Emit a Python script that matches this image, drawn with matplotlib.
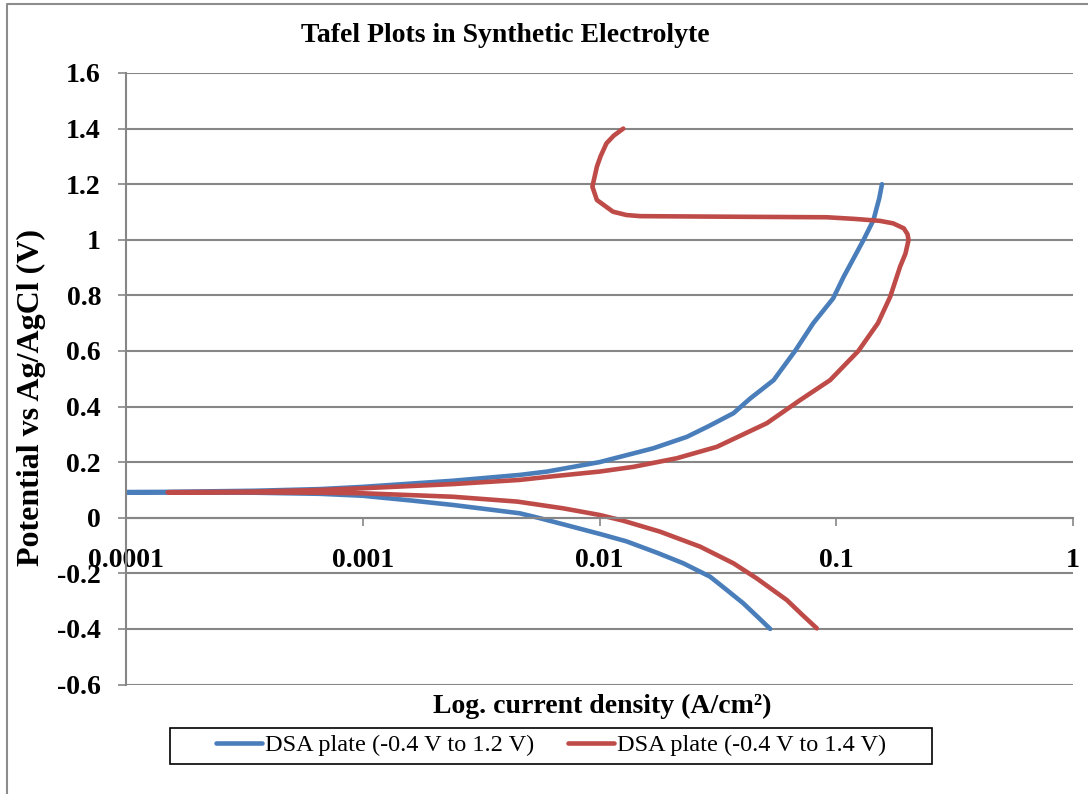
import numpy as np
import matplotlib
matplotlib.use("Agg")
import matplotlib.pyplot as plt
from matplotlib.patches import Rectangle
from matplotlib.lines import Line2D
from matplotlib.ticker import NullLocator, FixedLocator, FixedFormatter

plt.rcParams['font.family'] = ['Liberation Serif', 'DejaVu Serif']

# ---- data (potential in V vs Ag/AgCl, current density in A/cm2) ----
label_12 = "DSA plate (-0.4 V to 1.2 V)"
E_12 = [-0.400, -0.360, -0.308, -0.260, -0.212, -0.164, -0.126, -0.085, -0.060,
        -0.030, 0.000, 0.016, 0.046, 0.062, 0.079, 0.086, 0.090, 0.091, 0.091,
        0.092, 0.093, 0.097, 0.103, 0.111, 0.133, 0.154, 0.166, 0.200, 0.250,
        0.291, 0.330, 0.376, 0.429, 0.495, 0.600, 0.700, 0.789, 0.867, 0.999,
        1.071, 1.150, 1.200]
i_12 = [0.0526, 0.0470, 0.0405, 0.0345, 0.0293, 0.0226, 0.0175, 0.0130, 0.0102,
        0.0075, 0.0055, 0.0046, 0.0024, 0.0016, 0.0010, 0.00066, 0.00035, 0.00015, 0.00008,
        0.00008, 0.00015, 0.00035, 0.00066, 0.0010, 0.0024, 0.0046, 0.0060, 0.0100, 0.0169,
        0.0234, 0.0290, 0.0368, 0.0433, 0.0544, 0.0670, 0.0800, 0.0970, 0.1075, 0.1303,
        0.1436, 0.1520, 0.1560]

label_14 = "DSA plate (-0.4 V to 1.4 V)"
E_14 = [-0.398, -0.350, -0.296, -0.218, -0.164, -0.104, -0.050, -0.010, 0.010,
        0.034, 0.058, 0.0755, 0.088, 0.090, 0.091, 0.091,
        0.092, 0.094, 0.100, 0.106, 0.121, 0.136, 0.150, 0.166, 0.183, 0.214,
        0.255, 0.340, 0.423, 0.495, 0.600, 0.700, 0.795, 0.903, 0.950, 0.999, 1.020,
        1.041, 1.059, 1.068, 1.075, 1.081, 1.083, 1.085, 1.089, 1.101, 1.143, 1.191,
        1.263, 1.300, 1.347, 1.375, 1.400]
i_14 = [0.0828, 0.0720, 0.0618, 0.0461, 0.0368, 0.0266, 0.0180, 0.0125, 0.0100,
        0.0070, 0.0045, 0.0024, 0.0010, 0.00066, 0.00035, 0.00015,
        0.00015, 0.00035, 0.00066, 0.0010, 0.0024, 0.0046, 0.0065, 0.0100, 0.0139, 0.0212,
        0.0313, 0.0509, 0.0703, 0.0942, 0.1240, 0.1500, 0.1690, 0.1860, 0.1960, 0.2020, 0.2000,
        0.1930, 0.1740, 0.1530, 0.1200, 0.0912, 0.0345, 0.0149, 0.0130, 0.0114, 0.00975, 0.00933,
        0.00975, 0.0101, 0.0107, 0.0115, 0.0126]

x_ticks = [0.0001, 0.001, 0.01, 0.1, 1]
x_tick_labels = ["0.0001", "0.001", "0.01", "0.1", "1"]
y_ticks = [-0.6, -0.4, -0.2, 0.0, 0.2, 0.4, 0.6, 0.8, 1.0, 1.2, 1.4, 1.6]
y_tick_labels = ["-0.6", "-0.4", "-0.2", "0", "0.2", "0.4", "0.6", "0.8", "1", "1.2", "1.4", "1.6"]

title = "Tafel Plots in Synthetic Electrolyte"
xlabel = "Log. current density (A/cm²)"
ylabel = "Potential vs Ag/AgCl (V)"

BLUE = '#4a7ebb'
RED = '#be4b48'
GRID = '#868686'

W, H = 1088, 794
fig = plt.figure(figsize=(W / 100, H / 100), dpi=100)
ax = fig.add_axes([126 / W, 1 - 684.5 / H, (1073 - 126) / W, (684.5 - 73) / H])

l1, = ax.plot(i_12, E_12, color=BLUE, lw=3.3, solid_capstyle='round', solid_joinstyle='round')
l2, = ax.plot(i_14, E_14, color=RED, lw=3.3, solid_capstyle='round', solid_joinstyle='round')

ax.set_xscale('log')
ax.set_xlim(1e-4, 1)
ax.set_ylim(-0.6, 1.6)
ax.xaxis.set_major_locator(FixedLocator(x_ticks))
ax.xaxis.set_major_formatter(FixedFormatter(x_tick_labels))
ax.xaxis.set_minor_locator(NullLocator())
ax.yaxis.set_major_locator(FixedLocator(y_ticks))
ax.yaxis.set_major_formatter(FixedFormatter(y_tick_labels))

ax.yaxis.grid(True, color=GRID, lw=1.5)
ax.set_axisbelow(True)
for s in ['top', 'right']:
    ax.spines[s].set_visible(False)
ax.spines['left'].set_color(GRID)
ax.spines['left'].set_linewidth(1.5)
ax.spines['bottom'].set_position(('data', 0))
ax.spines['bottom'].set_color(GRID)
ax.spines['bottom'].set_linewidth(1.5)

ax.tick_params(axis='both', color=GRID, width=1.2, length=6, direction='out',
               labelcolor='black', labelsize=20)
ax.tick_params(axis='x', pad=16)
ax.tick_params(axis='y', pad=12)
for lab in ax.get_xticklabels() + ax.get_yticklabels():
    lab.set_fontweight('bold')

fig.text(505 / W, 1 - 35 / H, title, ha='center', va='center', fontsize=20, fontweight='bold')
fig.text(31 / W, 1 - 398 / H, ylabel, ha='center', va='center', rotation=90,
         fontsize=23, fontweight='bold')
fig.text(602 / W, 1 - 706 / H, xlabel, ha='center', va='center', fontsize=20, fontweight='bold')

fig.legend([l1, l2], [label_12, label_14], loc='center',
           bbox_to_anchor=(551 / W, 1 - 745 / H), ncol=2, frameon=False,
           fontsize=17.5, handlelength=1.9, handletextpad=0.1, columnspacing=1.4)
fig.patches.append(Rectangle((170 / W, 1 - 764 / H), 762 / W, 36 / H, transform=fig.transFigure,
                             fill=False, ec='black', lw=1.2))
fig.lines.append(Line2D([7 / W, 7 / W, 1.0], [0.0, 1 - 4 / H, 1 - 4 / H], transform=fig.transFigure,
                        color='#8c8c8c', lw=1.5))

fig.savefig('out.png', dpi=100)
